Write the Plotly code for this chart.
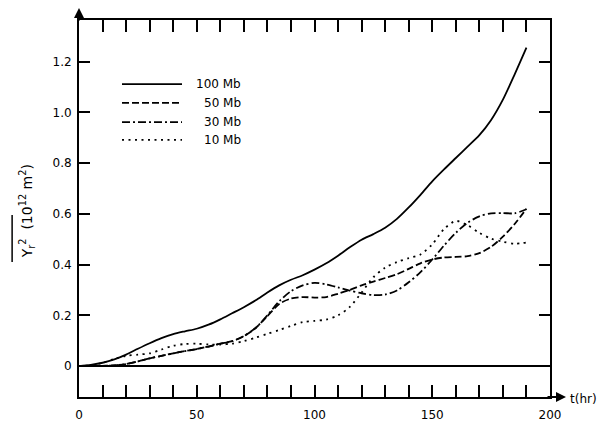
import plotly.graph_objects as go

# ---- data ----
t_hr = [0, 5, 10, 15, 20, 25, 30, 35, 40, 45, 50, 55, 60, 65, 70, 75, 80, 85, 90, 95,
        100, 105, 110, 115, 120, 125, 130, 135, 140, 145, 150, 155, 160, 165, 170, 175,
        180, 185, 190]

y_100mb = [0, 0.005, 0.013, 0.026, 0.045, 0.068, 0.09, 0.11, 0.126, 0.137, 0.147, 0.163,
           0.184, 0.208, 0.232, 0.259, 0.29, 0.318, 0.34, 0.358, 0.38, 0.405, 0.435, 0.468,
           0.498, 0.52, 0.545, 0.58, 0.625, 0.675, 0.728, 0.775, 0.82, 0.865, 0.91, 0.97,
           1.05, 1.15, 1.255]

y_50mb = [0, 0, 0.001, 0.003, 0.008, 0.018, 0.03, 0.04, 0.05, 0.059, 0.067, 0.077, 0.088,
          0.098, 0.118, 0.15, 0.197, 0.245, 0.266, 0.272, 0.27, 0.272, 0.285, 0.30, 0.318,
          0.333, 0.347, 0.362, 0.383, 0.405, 0.42, 0.428, 0.43, 0.433, 0.445, 0.47, 0.51,
          0.56, 0.62]

y_30mb = [0, 0, 0.001, 0.003, 0.008, 0.018, 0.03, 0.04, 0.05, 0.059, 0.067, 0.077, 0.088,
          0.098, 0.118, 0.15, 0.20, 0.255, 0.295, 0.318, 0.328, 0.322, 0.31, 0.297, 0.287,
          0.28, 0.282, 0.298, 0.33, 0.37, 0.42, 0.475, 0.525, 0.565, 0.59, 0.602, 0.603,
          0.602, 0.618]

y_10mb = [0, 0.003, 0.012, 0.028, 0.04, 0.045, 0.05, 0.065, 0.08, 0.087, 0.088, 0.085,
          0.085, 0.088, 0.098, 0.112, 0.127, 0.142, 0.158, 0.173, 0.178, 0.183, 0.20, 0.233,
          0.29, 0.35, 0.388, 0.41, 0.425, 0.44, 0.48, 0.54, 0.572, 0.555, 0.525, 0.502,
          0.49, 0.482, 0.487]

series_names = ["100 Mb", "50 Mb", "30 Mb", "10 Mb"]
series_values = [y_100mb, y_50mb, y_30mb, y_10mb]
series_dash = ["solid", "7px,3px", "8px,3px,2px,3px", "2px,4.5px"]

x_tick_vals = list(range(0, 201, 10))
x_tick_text = [str(v) if v % 50 == 0 else "" for v in x_tick_vals]
y_tick_vals = [0, 0.2, 0.4, 0.6, 0.8, 1.0, 1.2]
y_tick_text = ["0", "0.2", "0.4", "0.6", "0.8", "1.0", "1.2"]

FONT = "DejaVu Sans"

fig = go.Figure()
for name, vals, dash in zip(series_names, series_values, series_dash):
    fig.add_trace(go.Scatter(
        x=t_hr, y=vals, mode="lines", name=name, showlegend=False,
        line=dict(color="black", width=1.8, dash=dash, shape="spline", smoothing=0.8),
    ))

# ---- hand-made legend (paper coords) ----
leg_y = [0.830, 0.780, 0.729, 0.682]
shapes = []
annotations = []
for name, dash, yy in zip(series_names, series_dash, leg_y):
    shapes.append(dict(type="line", xref="paper", yref="paper",
                       x0=0.0913, x1=0.2187, y0=yy, y1=yy,
                       line=dict(color="black", width=1.8, dash=dash)))
    annotations.append(dict(xref="paper", yref="paper", x=0.348, y=yy, text=name,
                            showarrow=False, xanchor="right", yanchor="middle",
                            font=dict(family=FONT, size=12, color="black")))

# axis arrows
annotations.append(dict(xref="paper", yref="paper", x=1.034, y=0, ax=-20, ay=0,
                        text="", showarrow=True,
                        arrowhead=2, arrowsize=1, arrowwidth=2, arrowcolor="black"))
annotations.append(dict(xref="paper", yref="paper", x=0, y=1.032, ax=0, ay=14,
                        text="", showarrow=True,
                        arrowhead=2, arrowsize=1, arrowwidth=2, arrowcolor="black"))
annotations.append(dict(xref="paper", yref="paper", x=1.038, y=-0.005, text="t(hr)",
                        showarrow=False, xanchor="left", yanchor="middle",
                        font=dict(family=FONT, size=12, color="black")))
# y-axis title
annotations.append(dict(xref="paper", yref="paper", x=-0.110, y=0.493,
                        text="Y<sub>r</sub><sup>2</sup>  (10<sup>12</sup> m<sup>2</sup>)",
                        textangle=-90, showarrow=False, xanchor="center", yanchor="middle",
                        font=dict(family=FONT, size=14, color="black")))
# overline over Y_r^2
shapes.append(dict(type="line", xref="paper", yref="paper",
                   x0=-0.142, x1=-0.142, y0=0.358, y1=0.483,
                   line=dict(color="black", width=1.5)))

fig.update_layout(
    width=602, height=422,
    margin=dict(l=79, r=52, t=20, b=25),
    paper_bgcolor="white", plot_bgcolor="white",
    font=dict(family=FONT, size=12, color="black"),
    shapes=shapes, annotations=annotations,
    xaxis=dict(range=[0, 200], tickvals=x_tick_vals, ticktext=x_tick_text,
               ticks="inside", ticklen=12, tickwidth=1.5, tickcolor="black",
               showline=True, linewidth=2, linecolor="black", mirror="ticks",
               showgrid=False, zeroline=False, ticklabelstandoff=6, automargin=False),
    yaxis=dict(range=[-0.122, 1.364], tickvals=y_tick_vals, ticktext=y_tick_text,
               ticks="inside", ticklen=11, tickwidth=1.5, tickcolor="black",
               showline=True, linewidth=2, linecolor="black", mirror="ticks",
               showgrid=False, zeroline=True, zerolinecolor="black", zerolinewidth=1.5,
               ticklabelstandoff=3, automargin=False),
)

fig.write_html("out.html",
               config={"displayModeBar": False},
               post_script="document.body.style.margin='0';"
                           "document.body.style.overflow='hidden';")
